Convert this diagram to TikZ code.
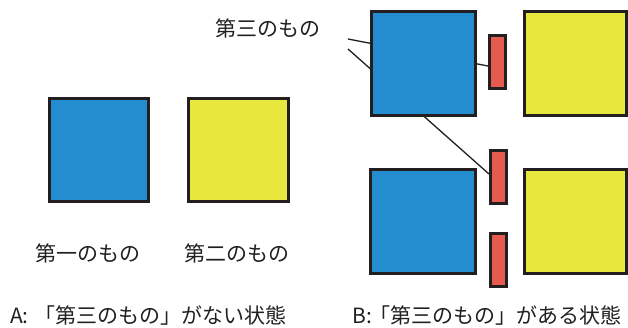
\documentclass[tikz,border=0pt]{standalone}
\usepackage{fontspec}
\setmainfont{Noto Sans CJK JP}
\usepackage{xcolor}
\usepackage{tikz}
\usetikzlibrary{positioning, calc}

\definecolor{boxline}{HTML}{231F20}
\definecolor{thingblue}{HTML}{238DCF}
\definecolor{thingyellow}{HTML}{E8E73D}
\definecolor{thingred}{HTML}{E55B4E}

\tikzset{
  square/.style={draw=boxline, line width=3pt, inner sep=0pt},
  bluebox/.style={square, fill=thingblue},
  yellowbox/.style={square, fill=thingyellow},
  redbar/.style={draw=boxline, line width=3pt, fill=thingred, inner sep=0pt,
    minimum width=16pt, minimum height=53pt},
  leader/.style={draw=boxline, line width=1.3pt},
  caption/.style={font=\fontsize{21}{25}\selectfont, text=boxline},
  statecap/.style={caption, anchor=west, inner sep=0pt}
}

\begin{document}
\begin{tikzpicture}[x=1pt, y=-1pt]
        \useasboundingbox (0,0) rectangle (628,327);

        % A: without the third thing
        \node[bluebox, minimum width=99pt, minimum height=103pt] (a1) at (99,150) {};
        \node[yellowbox, minimum width=100pt, minimum height=103pt] (a2) at (238.5,150) {};
        \node[caption] (a1label) at (88,253) {第一のもの};
        \node[caption] (a2label) at (237,253) {第二のもの};
        \node[statecap] (acap) at (10,316) {\makebox[24pt][l]{A:}「第三のもの」がない状態};

        % B: with the third thing
        \foreach \n/\x/\y in {b1/497.5/62, b2/498.5/177, b3/498.5/260} {
          \node[redbar] (\n) at (\x,\y) {};
        }
        \node[caption] (blabel) at (268,28) {第三のもの};
        \coordinate (lead1) at (348,39);
        \coordinate (lead2) at (348,49);
        \draw[leader] (lead1) -- ($(b1.west)+(0,4)$);
        \draw[leader] (lead2) -- ($(b2.west)+(0,-3)$);

        \node[bluebox, minimum width=104pt, minimum height=104pt] (bb1) at (423.5,63.5) {};
        \node[bluebox, minimum width=105pt, minimum height=104pt] (bb2) at (423,221.5) {};
        \node[yellowbox, minimum width=102pt, minimum height=104pt] (by1) at (575.5,63.5) {};
        \node[yellowbox, minimum width=102pt, minimum height=104pt] (by2) at (575.5,221.5) {};
        \node[statecap] (bcap) at (352,316) {\makebox[17pt][l]{B:}「第三のもの」がある状態};
      \end{tikzpicture}
\end{document}
